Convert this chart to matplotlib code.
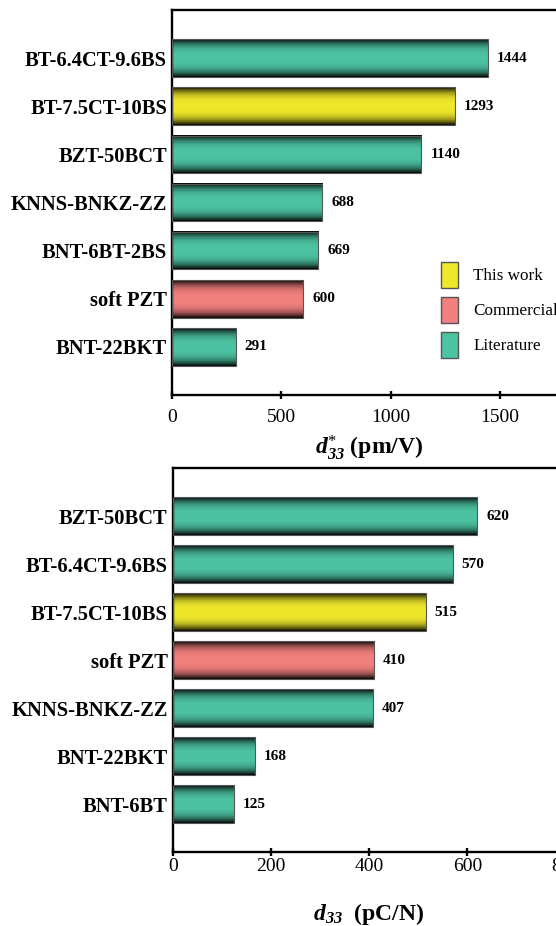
import numpy as np
import matplotlib
matplotlib.use('Agg')
import matplotlib.pyplot as plt
from matplotlib.patches import Patch

plt.rcParams['font.family'] = ['Liberation Serif', 'DejaVu Serif']
plt.rcParams['mathtext.fontset'] = 'custom'
plt.rcParams['mathtext.rm'] = 'Liberation Serif'
plt.rcParams['mathtext.it'] = 'Liberation Serif:italic'
plt.rcParams['mathtext.bf'] = 'Liberation Serif:bold'
if 'mathtext.bfit' in plt.rcParams:
    plt.rcParams['mathtext.bfit'] = 'Liberation Serif:italic:bold'

# d33* data (bottom to top)
top_names = ['BNT-22BKT', 'soft PZT', 'BNT-6BT-2BS', 'KNNS-BNKZ-ZZ',
             'BZT-50BCT', 'BT-7.5CT-10BS', 'BT-6.4CT-9.6BS']
top_values = [291, 600, 669, 688, 1140, 1293, 1444]
top_groups = ['lit', 'com', 'lit', 'lit', 'lit', 'this', 'lit']

# d33 data (bottom to top)
bot_names = ['BNT-6BT', 'BNT-22BKT', 'KNNS-BNKZ-ZZ', 'soft PZT',
             'BT-7.5CT-10BS', 'BT-6.4CT-9.6BS', 'BZT-50BCT']
bot_values = [125, 168, 407, 410, 515, 570, 620]
bot_groups = ['lit', 'lit', 'lit', 'com', 'this', 'lit', 'lit']

group_colors = {'this': '#efe82a', 'com': '#f2807f', 'lit': '#4cc3a2'}
group_labels = {'this': 'This work', 'com': 'Commercial', 'lit': 'Literature'}


def gradient_bars(ax, names, values, groups, xmax):
    ypos = np.arange(len(names))
    bars = ax.barh(ypos, values, height=0.78, facecolor='none',
                   edgecolor='#555555', linewidth=0.8, zorder=3)
    # dark rim, bright centre
    t = np.linspace(-1, 1, 64)
    shade = 0.04 + 0.96 * (1 - np.abs(t) ** 3)
    for bar, g in zip(bars, groups):
        rgb = np.array(matplotlib.colors.to_rgb(group_colors[g]))
        img = shade[:, None, None] * rgb[None, None, :]
        x0, y0 = bar.get_x(), bar.get_y()
        ax.imshow(img, extent=[x0, x0 + bar.get_width(), y0, y0 + bar.get_height()],
                  aspect='auto', interpolation='bilinear', origin='lower', zorder=2)
        ax.annotate(f'{int(bar.get_width())}', (x0 + bar.get_width(), y0 + bar.get_height() / 2),
                    xytext=(6.5, 0), textcoords='offset points', va='center', ha='left',
                    fontsize=11, fontweight='bold')
    ax.set_xlim(0, xmax)
    ax.set_ylim(-1, len(names))
    ax.set_yticks(ypos)
    ax.set_yticklabels(names, fontsize=14.8, fontweight='bold')
    ax.tick_params(axis='y', length=0, pad=3.6)
    for s in ['top', 'left', 'bottom', 'right']:
        ax.spines[s].set_linewidth(1.7)


fig = plt.figure(figsize=(5.56, 9.26), dpi=100)

ax1 = fig.add_axes([172 / 556, 1 - 395 / 926, 393.5 / 556, 385 / 926])
gradient_bars(ax1, top_names, top_values, top_groups, 1800)
ax1.set_xticks([0, 500, 1000, 1500])
ax1.tick_params(axis='x', direction='inout', length=6, width=1.7, labelsize=14, pad=7)
ax1.set_xlabel(r'$\mathbfit{d}^{*}_{\mathbfit{33}}$ (pm/V)', fontsize=17,
               fontweight='bold', labelpad=5)

handles = [Patch(facecolor=group_colors[k], edgecolor='#555555', linewidth=1,
                 label=group_labels[k]) for k in ['this', 'com', 'lit']]
fig.legend(handles=handles, loc='upper left', bbox_to_anchor=(441 / 556, 1 - 262 / 926),
           bbox_transform=fig.transFigure, frameon=False, fontsize=12.3,
           borderpad=0, borderaxespad=0, handlelength=1.0, handleheight=1.95,
           labelspacing=0.54, handletextpad=0.9)

ax2 = fig.add_axes([172.7 / 556, 1 - 852 / 926, 392.8 / 556, 384 / 926])
gradient_bars(ax2, bot_names, bot_values, bot_groups, 800)
ax2.set_xticks([0, 200, 400, 600, 800])
ax2.tick_params(axis='x', direction='inout', length=6, width=1.7, labelsize=14, pad=1)
ax2.set_xlabel(r'$\mathbfit{d}_{\mathbfit{33}}$  (pC/N)', fontsize=17,
               fontweight='bold', labelpad=19)

fig.savefig('out.png', dpi=100)
